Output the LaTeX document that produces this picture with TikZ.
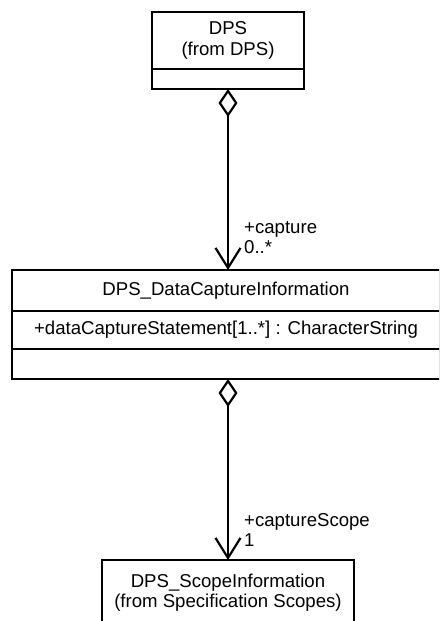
\documentclass[tikz,border=0pt]{standalone}
\usepackage{fontspec}
\setmainfont{Liberation Sans}
\usetikzlibrary{positioning,
        arrows.meta}

\tikzset{
        umlpart/.style={draw, line width=2.2pt, outer sep=0pt, inner sep=0pt, align=center,
                font=\fontsize{18.6}{20.5}\selectfont},
        rolelabel/.style={anchor=west, align=left, inner sep=0pt, font=\fontsize{18.6}{20}\selectfont},
        assoc/.style={line width=2.2pt,
                {Diamond[open,length=28pt,width=19pt]}-{Straight Barb[length=20pt,width=25pt]}}
}

\begin{document}
\begin{tikzpicture}[x=1pt,y=-1pt]
        \useasboundingbox (0,0) rectangle (439,621);
        \clip (0,0) rectangle (439,621);

        \node [umlpart,minimum width=152pt,minimum height=57pt,anchor=north] (dps) at (228,12) {DPS\\(from DPS)};
        \node [umlpart,minimum width=152pt,minimum height=20pt,below=0pt of dps] (dpsops) {};

        \node [umlpart,minimum width=428pt,minimum height=41pt,anchor=north] (capture) at (226,270) {DPS\_DataCaptureInformation};
        \node [umlpart,minimum width=428pt,minimum height=38pt,below=0pt of capture] (captureattr) {+dataCaptureStatement[1..*] : CharacterString};
        \node [umlpart,minimum width=428pt,minimum height=30pt,below=0pt of captureattr] (captureops) {};

        \node [umlpart,minimum width=252pt,minimum height=65pt,anchor=north] (scope) at (228,560) {DPS\_ScopeInformation\\(from Specification Scopes)};

        \node [rolelabel] (capturerole) at (244,238) {+capture\\0..*};
        \node [rolelabel] (scoperole) at (244,530) {+captureScope\\1};

        \draw [assoc] (dpsops.south) -- (dpsops.south |- capture.north);
        \draw [assoc] (dpsops.south |- captureops.south) -- (scope.north);
\end{tikzpicture}
\end{document}
